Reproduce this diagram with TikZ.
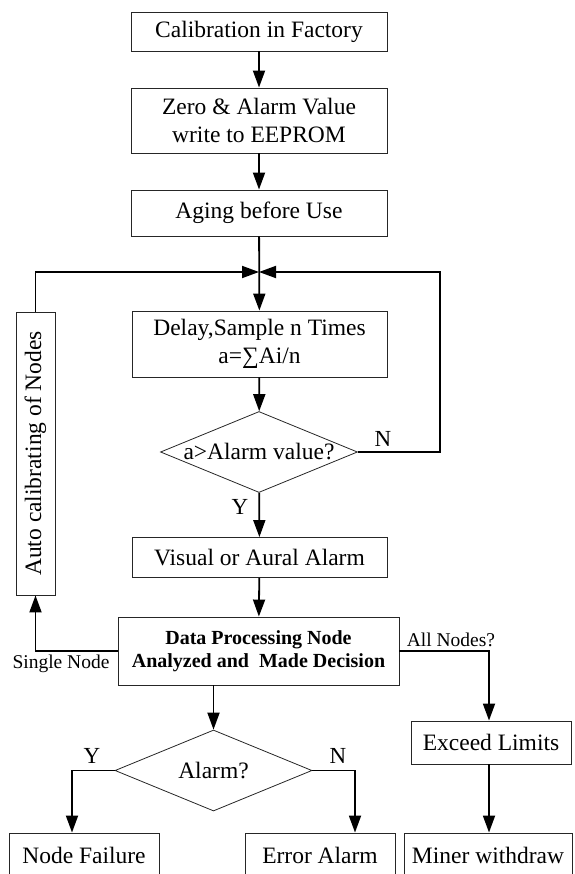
\documentclass[tikz,border=0pt]{standalone}
\usepackage{fontspec}
\setmainfont{Liberation Serif}
\usetikzlibrary{arrows.meta,shapes.geometric}
\begin{document}
\begin{tikzpicture}[x=1pt,y=-1pt,
  box/.style={draw=black!85,line width=0.9pt,inner sep=0pt,align=center,
    font=\fontsize{23.5}{28}\selectfont},
  dia/.style={diamond,draw=black!85,line width=0.8pt,inner sep=0pt,
    minimum width=197pt,minimum height=81pt,font=\fontsize{23.5}{28}\selectfont},
  arr/.style={line width=1.8pt,-{Triangle[length=17pt,width=12pt]}},
  lbl/.style={inner sep=0pt,font=\fontsize{19.5}{22}\selectfont},
  yn/.style={inner sep=0pt,font=\fontsize{23}{26}\selectfont}]
\useasboundingbox (0,0) rectangle (574,874);
\clip (0,0) rectangle (574,874);
% nodes
\node[box,minimum width=256pt,minimum height=39pt] (cal) at (259,31.5) {Calibration in Factory};
\node[box,minimum width=256pt,minimum height=65pt] (zero) at (259,120.5) {Zero \& Alarm Value\\write to EEPROM};
\node[box,minimum width=256pt,minimum height=46pt] (aging) at (259,213) {Aging before Use};
\coordinate (J) at (259,272);
\coordinate (r1) at (440,272);
\node[box,minimum width=255pt,minimum height=66pt] (delay) at (259.5,344) {Delay,Sample n Times\\a=∑Ai/n};
\node[dia] (d1) at (259,452) {\makebox[0pt]{a>Alarm value?}};
\node[box,minimum width=255pt,minimum height=40pt] (visual) at (259.5,557.5) {Visual or Aural Alarm};
\node[box,minimum width=281pt,minimum height=68pt,font=\bfseries\fontsize{20}{23}\selectfont] (data) at (258.5,651) {Data Processing Node\\Analyzed and\ \ Made Decision};
\node[box,rotate=90,minimum width=283pt,minimum height=39pt] (auto) at (35.5,453.5) {Auto calibrating of Nodes};
\node[dia] (d2) at (213.5,770.5) {\makebox[0pt]{Alarm?}};
\node[box,minimum width=160pt,minimum height=43pt] (exceed) at (491,742.5) {Exceed Limits};
\node[box,minimum width=150pt,minimum height=44pt] (nf) at (84,855) {Node Failure};
\node[box,minimum width=150pt,minimum height=44pt] (err) at (320,855) {Error Alarm};
\node[box,minimum width=168pt,minimum height=44pt] (miner) at (488,855) {Miner withdraw};
% labels
\node[yn] (n1) at (383,439) {N};
\node[yn] (y1) at (240,507) {Y};
\node[lbl] (sn) at (61,664) {Single Node};
\node[lbl] (an) at (451,640) {All Nodes?};
\node[yn] (y2) at (92,756) {Y};
\node[yn] (n2) at (338,756) {N};
% connectors
\draw[arr] (cal) -- (zero);
\draw[arr] (zero) -- (aging);
\draw[arr] (aging) -- (delay);
\draw[arr] (auto.east) |- (J);
\draw[arr] (d1.east) -| (r1) -- (J);
\draw[arr] (delay) -- (d1);
\draw[arr] (d1) -- (visual);
\draw[arr] (visual) -- (data);
\draw[arr] (data.west) -| (auto.west);
\draw[arr] (data.east) -| ([xshift=-2pt]exceed.north);
\draw[arr] ([xshift=-2pt]exceed.south) -- ([xshift=1pt]miner.north);
\draw[arr] (data.south -| d2.north) -- (d2.north);
\draw[arr] (d2.west) -| ([xshift=-12pt]nf.north);
\draw[arr] (d2.east) -| ([xshift=35pt]err.north);
\end{tikzpicture}
\end{document}
